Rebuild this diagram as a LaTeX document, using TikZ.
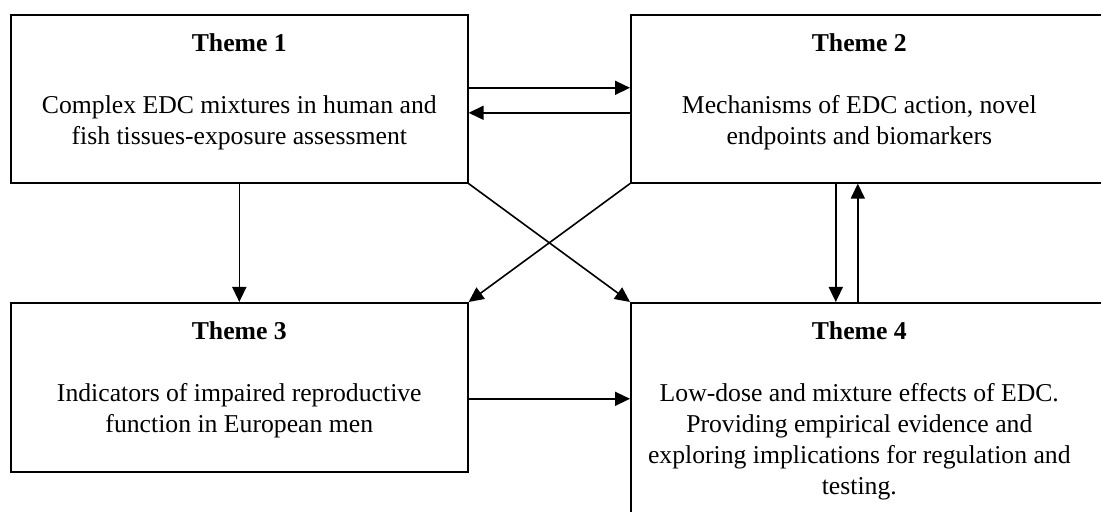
\documentclass[tikz,border=0pt]{standalone}
\usepackage{fontspec}
\setmainfont{Liberation Serif}
\usetikzlibrary{arrows.meta}

% box contents: height, title, body
\newcommand{\themetext}[3]{\parbox[b][#1][t]{228.5pt}{\centering\vspace*{9.2pt}\textbf{#2}\\[15.5pt]#3}}

\begin{document}
\begin{tikzpicture}[x=0.5pt,y=-0.5pt,->,>={Triangle[length=7.5pt,width=7pt]},line width=0.8pt]
    \tikzstyle{theme}=[draw,anchor=north west,inner sep=0pt,font=\fontsize{12.85}{15.5}\selectfont]

    \useasboundingbox (0,0) rectangle (1101,512);
    \clip (0,0) rectangle (1101,512);

    \node[theme](t1) at (10,14){\themetext{84pt}{Theme 1}{Complex EDC mixtures in human and\\fish tissues-exposure assessment}};
    \node[theme](t2) at (630,14){\themetext{84pt}{Theme 2}{Mechanisms of EDC action, novel\\endpoints and biomarkers}\rule{8pt}{0pt}};
    \node[theme](t3) at (10,302){\themetext{84.5pt}{Theme 3}{Indicators of impaired reproductive\\function in European men}};
    \node[theme](t4) at (630,302){\themetext{120pt}{Theme 4}{Low-dose and mixture effects of EDC.\\Providing empirical evidence and\\exploring implications for regulation and\\testing.}\rule{8pt}{0pt}};

    \draw ([yshift=5.5pt]t1.east) -- ([yshift=5.5pt]t1.east -| t2.west);
    \draw ([yshift=-7pt]t2.west) -- ([yshift=-7pt]t2.west -| t1.east);
    \draw (t1.south) -- (t3.north);
    \draw (t1.south east) -- (t4.north west);
    \draw (t2.south west) -- (t3.north east);
    \draw ([xshift=-15.75pt]t2.south) -- ([xshift=-15.75pt]t2.south |- t4.north);
    \draw ([xshift=-4.75pt]t4.north) -- ([xshift=-4.75pt]t4.north |- t2.south);
    \draw ([yshift=-5.75pt]t3.east) -- ([yshift=-5.75pt]t3.east -| t4.west);
  \end{tikzpicture}
\end{document}
